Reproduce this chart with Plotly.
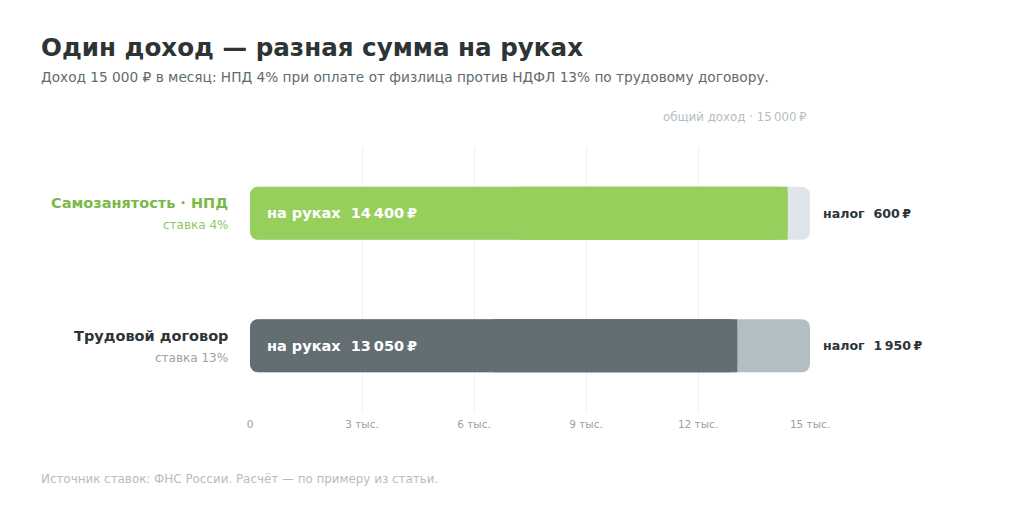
import plotly.graph_objects as go

# данные
rows = ["Самозанятость · НПД", "Трудовой договор"]
rates = ["ставка 4%", "ставка 13%"]
total = [15000, 15000]
net = [14400, 13050]
tax = [600, 1950]
net_labels = ["14\u202f400\u202f₽", "13\u202f050\u202f₽"]
tax_labels = ["600\u202f₽", "1\u202f950\u202f₽"]
tick_vals = [0, 3000, 6000, 9000, 12000, 15000]
tick_text = ["0", "3 тыс.", "6 тыс.", "9 тыс.", "12 тыс.", "15 тыс."]

net_colors = ["#97cf5d", "#636e72"]
tax_colors = ["#dfe5e9", "#b3bec4"]
name_colors = ["#7ab848", "#2d3436"]
rate_colors = ["#8cc95a", "#9aa3a6"]

# страница сдвигает рисунок на 8 px, поэтому всё считаем от этого сдвига
OFF = 8
W, H = 1024 - OFF, 516 - OFF
L, T = 250 - OFF, 147 - OFF
R, B = W - (810 - OFF), H - (412 - OFF)
pw, ph = W - L - R, H - T - B


def px(x):
    return (x - OFF - L) / pw


def py(y):
    return 1 - (y - OFF - T) / ph


fig = go.Figure()

zeros = [0 for _ in rows]
# общий доход — подложка цвета налога (с base скругляются оба конца)
fig.add_trace(go.Bar(y=rows, x=total, base=zeros, orientation="h",
                     marker=dict(color=tax_colors, line=dict(width=0), cornerradius=8),
                     width=0.4, hoverinfo="skip"))
# на руках
fig.add_trace(go.Bar(y=rows, x=net, base=zeros, orientation="h",
                     marker=dict(color=net_colors, line=dict(width=0), cornerradius=8),
                     width=0.4, hoverinfo="skip"))
# прямой правый край у части «на руках»
fig.add_trace(go.Bar(y=rows, x=[n / 2 for n in net], base=[n / 2 for n in net], orientation="h",
                     marker=dict(color=net_colors, line=dict(width=0), cornerradius=0),
                     width=0.4, hoverinfo="skip"))

anns = []
for i, r in enumerate(rows):
    anns.append(dict(x=0, y=r, xref="x", yref="y", xanchor="left", xshift=15,
                     text="<b>на руках\u00a0\u00a0" + net_labels[i] + "</b>", showarrow=False,
                     font=dict(size=14.5, color="white")))
    anns.append(dict(x=total[i], y=r, xref="x", yref="y", xanchor="left", xshift=11,
                     text="<b>налог\u00a0\u00a0" + tax_labels[i] + "</b>", showarrow=False,
                     font=dict(size=12.6, color="#2d3436")))
    anns.append(dict(x=px(230), y=r, xref="paper", yref="y", xanchor="right", yshift=10,
                     text="<b>" + r + "</b>", showarrow=False,
                     font=dict(size=14.5, color=name_colors[i])))
    anns.append(dict(x=px(230), y=r, xref="paper", yref="y", xanchor="right", yshift=-12,
                     text=rates[i], showarrow=False,
                     font=dict(size=12, color=rate_colors[i])))

anns.append(dict(x=px(809), y=py(117), xref="paper", yref="paper", xanchor="right", yanchor="middle",
                 text="общий доход · 15\u202f000\u202f₽", showarrow=False,
                 font=dict(size=11.8, color="#b2bec3")))
anns.append(dict(x=px(39), y=py(47), xref="paper", yref="paper", xanchor="left", yanchor="middle",
                 text="<b>Один доход — разная сумма на руках</b>", showarrow=False,
                 font=dict(size=24.6, color="#2d3436")))
anns.append(dict(x=px(39), y=py(77), xref="paper", yref="paper", xanchor="left", yanchor="middle",
                 text="Доход 15 000 ₽ в месяц: НПД 4% при оплате от физлица против НДФЛ 13% по трудовому договору.",
                 showarrow=False, font=dict(size=13.7, color="#5f6b6d")))
anns.append(dict(x=px(39), y=py(479), xref="paper", yref="paper", xanchor="left", yanchor="middle",
                 text="Источник ставок: ФНС России. Расчёт — по примеру из статьи.",
                 showarrow=False, font=dict(size=11.9, color="#b2bec3")))

fig.update_layout(
    width=W, height=H,
    margin=dict(l=L, r=R, t=T, b=B),
    paper_bgcolor="white", plot_bgcolor="white",
    barmode="overlay", showlegend=False,
    font=dict(family="DejaVu Sans"),
    annotations=anns,
    xaxis=dict(range=[0, 15000], tickvals=tick_vals, ticktext=tick_text,
               showgrid=True, gridcolor="#eef0f2", gridwidth=1, zeroline=False,
               showline=False, ticks="outside", ticklen=2, tickcolor="rgba(0,0,0,0)",
               tickfont=dict(size=10.5, color="#9aa1a5"), fixedrange=True),
    yaxis=dict(categoryorder="array", categoryarray=rows,
               range=[1.5, -0.5], showticklabels=False, showgrid=False,
               zeroline=False, fixedrange=True),
)

fig.write_html("out.html")
